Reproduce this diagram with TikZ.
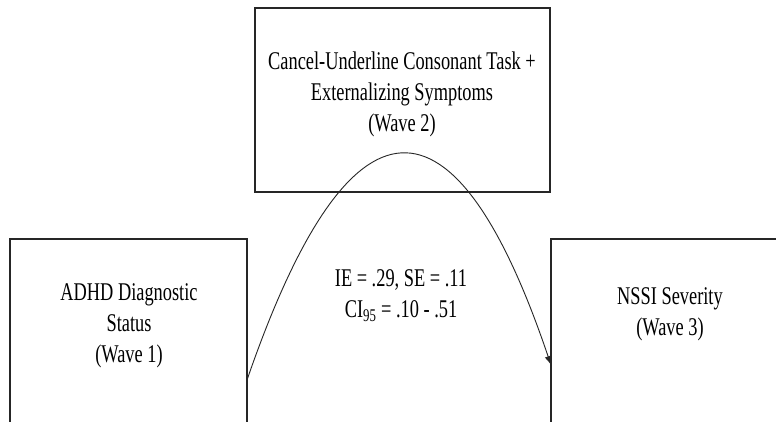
\documentclass[tikz,border=0pt]{standalone}
\usepackage{fontspec}
\setmainfont{Liberation Serif}[FakeStretch=0.72]
\usetikzlibrary{arrows.meta}
\tikzset{
  boxst/.style={draw=black!85, line width=2pt, fill=white},
  lbl/.style={align=center, inner sep=0pt, font=\fontsize{25.5}{31}\selectfont, text=black},
  pathst/.style={draw=black!85, line width=0.9pt, -{Latex[length=9pt,width=7pt]}}
}
\begin{document}
\begin{tikzpicture}[x=1pt,y=-1pt]
\useasboundingbox (0,0) rectangle (776,421);
\clip (0,0) rectangle (776,421);
\fill[white] (0,0) rectangle (776,421);
% boxes
\path[boxst] (255,8) rectangle (550,192);
\path[boxst] (10,239) rectangle (247,445);
\path[boxst] (551,239) rectangle (795,445);
\coordinate (mstart) at (247,380);
\coordinate (mend) at (551,365);
% labels
\node[lbl] (med) at (402,94) {Cancel-Underline Consonant Task +\\Externalizing Symptoms\\(Wave 2)};
\node[lbl] (adhd) at (129,326) {ADHD Diagnostic\\Status\\(Wave 1)};
\node[lbl] (nssi) at (670,314) {NSSI Severity\\(Wave 3)};
\node[lbl] (stats) at (401,296) {IE = .29, SE = .11\\CI\textsubscript{95} = .10 - .51};
% indirect path
\draw[pathst] (mstart) .. controls (350,81) and (455,81) .. (mend);
\end{tikzpicture}
\end{document}
